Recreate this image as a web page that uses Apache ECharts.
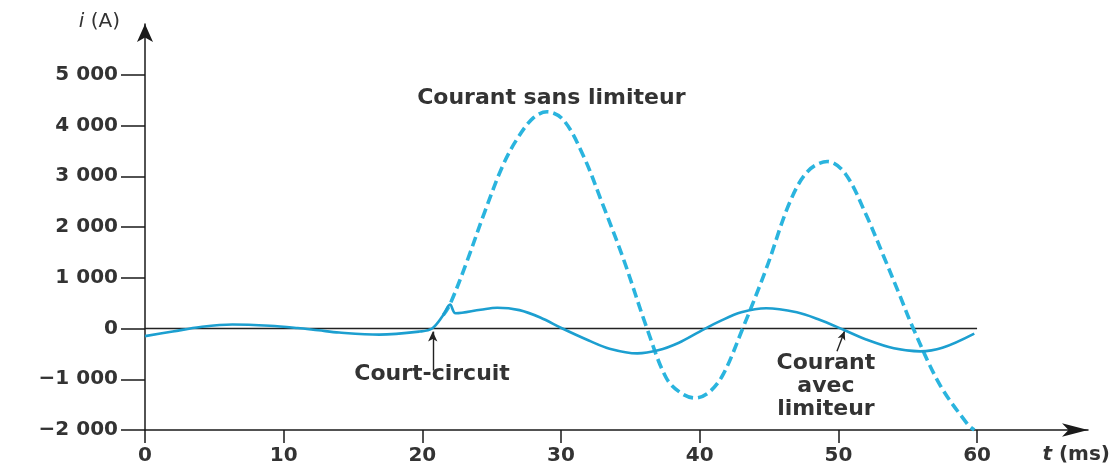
<!DOCTYPE html>
<html>
<head>
<meta charset="utf-8">
<script src="https://cdn.jsdelivr.net/npm/echarts@6/dist/echarts.min.js"></script>
<style>
html,body{margin:0;padding:0;background:#fff;}
#chart{width:1118px;height:471px;}
</style>
</head>
<body>
<div id="chart"></div>
<script>
// Courant avec limiteur (solid)
const tLim = [0, 2, 4, 6.3, 9, 11, 12.5, 14, 16.9, 19.8, 20.7, 21.5, 22, 22.4, 24.2, 25.4, 27, 28.5, 30.1, 32, 33.5, 35.5, 37, 38.5, 40, 41.5, 43, 44.8, 47, 48.5, 50.5, 52, 54, 55.9, 57.5, 59.8];
const iLim = [-150, -60, 30, 80, 55, 10, -35, -80, -120, -60, 0, 260, 470, 300, 370, 410, 362, 217, 0, -236, -397, -490, -430, -280, -60, 150, 320, 400, 320, 187, -40, -216, -390, -450, -380, -100];
// Courant sans limiteur (dashed)
const tSans = [21.5, 22, 23.2, 24.5, 25.8, 26.8, 28, 29, 30.2, 31.6, 33, 34.5, 36.2, 37.6, 38.7, 39.7, 40.7, 41.7, 43.1, 44.8, 46.5, 47.8, 49.2, 50.5, 52, 53.3, 54.4, 55.4, 57.3, 59.3, 59.8];
const iSans = [260, 480, 1310, 2300, 3210, 3720, 4150, 4270, 4100, 3410, 2450, 1370, 0, -980, -1280, -1370, -1250, -900, 0, 1180, 2490, 3100, 3290, 3050, 2240, 1400, 670, 0, -1100, -1880, -2000];
// Ticks
const xTicks = [0, 10, 20, 30, 40, 50, 60];
const xTickLabels = ['0', '10', '20', '30', '40', '50', '60'];
const yTicks = [-2000, -1000, 0, 1000, 2000, 3000, 4000, 5000];
const yTickLabels = ['\u22122 000', '\u22121 000', '0', '1 000', '2 000', '3 000', '4 000', '5 000'];
// Texts
const labelSans = 'Courant sans limiteur';
const labelAvec = 'Courant\navec\nlimiteur';
const labelCC = 'Court-circuit';

const FONT = 'DejaVu Sans';
const TXT = '#333';

const chart = echarts.init(document.getElementById('chart'), null, {renderer: 'canvas'});
const zip = (a, b) => a.map((v, i) => [v, b[i]]);

chart.setOption({
  animation: false,
  backgroundColor: '#fff',
  grid: {left: 145, right: 30, top: 24, bottom: 41, containLabel: false},
  xAxis: {
    type: 'value', min: 0, max: 68,
    name: '{it|t} (ms)', nameLocation: 'end', nameGap: 22,
    nameTextStyle: {
      align: 'right', verticalAlign: 'middle', padding: [50, 0, 0, 0],
      fontFamily: FONT, fontSize: 20, fontWeight: 'bold', color: TXT,
      rich: {it: {fontStyle: 'italic', fontFamily: FONT, fontSize: 20, fontWeight: 'bold', color: TXT}}
    },
    axisLine: {onZero: false, lineStyle: {color: '#1a1a1a', width: 1.5}, symbol: ['none', 'arrow'], symbolSize: [10, 26]},
    axisTick: {show: true, length: 13, lineStyle: {color: '#1a1a1a', width: 1.5}, customValues: xTicks},
    axisLabel: {
      customValues: xTicks, margin: 16,
      formatter: v => xTickLabels[xTicks.indexOf(v)] ?? '',
      fontFamily: FONT, fontSize: 20, fontWeight: 'bold', color: TXT
    },
    splitLine: {show: false}
  },
  yAxis: {
    type: 'value', min: -2000, max: 6000,
    name: '{it|i} (A)', nameLocation: 'end', nameGap: 2,
    nameTextStyle: {
      align: 'right', verticalAlign: 'middle', padding: [0, 25, 0, 0],
      fontFamily: FONT, fontSize: 20, color: TXT,
      rich: {it: {fontStyle: 'italic', fontFamily: FONT, fontSize: 20, color: TXT}}
    },
    axisLine: {onZero: false, lineStyle: {color: '#1a1a1a', width: 1.5}, symbol: ['none', 'arrow'], symbolSize: [12, 18]},
    axisTick: {show: true, length: 24, lineStyle: {color: '#1a1a1a', width: 1.5}, customValues: yTicks},
    axisLabel: {
      customValues: yTicks, margin: 27,
      formatter: v => yTickLabels[yTicks.indexOf(v)] ?? '',
      fontFamily: FONT, fontSize: 20, fontWeight: 'bold', color: TXT
    },
    splitLine: {show: false}
  },
  series: [
    {
      name: 'Courant sans limiteur', type: 'line', data: zip(tSans, iSans),
      smooth: 0.35, showSymbol: false, z: 3,
      lineStyle: {color: '#2ab4de', width: 3.6, type: [10, 5]},
      markPoint: {
        symbol: 'circle', symbolSize: 0, silent: true,
        label: {show: true, position: 'inside', fontFamily: FONT, fontSize: 22, fontWeight: 'bold', color: TXT},
        data: [{coord: [29.3, 4540], value: labelSans, label: {formatter: labelSans}}]
      }
    },
    {
      name: 'Courant avec limiteur', type: 'line', data: zip(tLim, iLim),
      smooth: 0.35, showSymbol: false, z: 4,
      lineStyle: {color: '#1c9fd0', width: 2.6},
      markLine: {
        silent: true, animation: false, z: 2,
        label: {show: false},
        lineStyle: {color: '#222', width: 1.4, type: 'solid'},
        data: [
          [{coord: [0, 0], symbol: 'none'}, {coord: [60, 0], symbol: 'none'}],
          [{coord: [20.75, -830], symbol: 'none'}, {coord: [20.75, -60], symbol: 'arrow', symbolSize: [7, 10]}],
          [{coord: [49.9, -450], symbol: 'none'}, {coord: [50.45, -50], symbol: 'arrow', symbolSize: [6, 9]}]
        ]
      },
      markPoint: {
        symbol: 'circle', symbolSize: 0, silent: true,
        label: {show: true, position: 'inside', fontFamily: FONT, fontSize: 22, fontWeight: 'bold', color: TXT, lineHeight: 23, align: 'center'},
        data: [
          {coord: [20.7, -910], value: labelCC, label: {formatter: labelCC}},
          {coord: [49.1, -1140], value: labelAvec, label: {formatter: labelAvec}}
        ]
      }
    }
  ]
});
</script>
</body>
</html>
